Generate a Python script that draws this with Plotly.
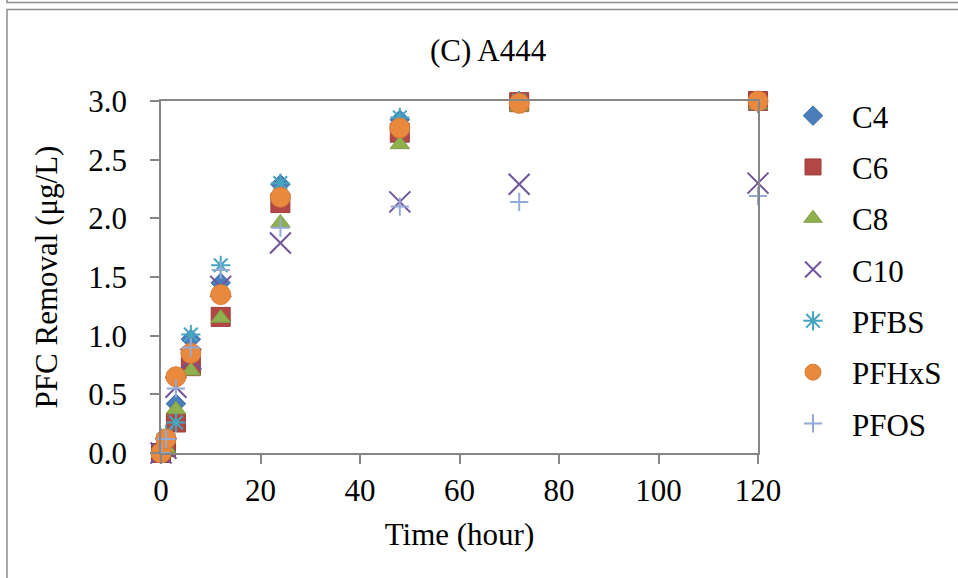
import plotly.graph_objects as go

# ---- data ----
time_h = [0, 1, 3, 6, 12, 24, 48, 72, 120]
c4 = [0.00, 0.05, 0.42, 0.97, 1.45, 2.29, 2.84, 3.00, 3.00]
c6 = [0.00, 0.05, 0.26, 0.74, 1.16, 2.13, 2.73, 2.99, 3.00]
c8 = [0.00, 0.04, 0.37, 0.70, 1.15, 1.96, 2.63, 2.95, 2.97]
c10 = [0.00, 0.04, 0.56, 0.80, 1.42, 1.79, 2.14, 2.29, 2.30]
pfbs = [0.00, 0.16, 0.26, 1.01, 1.60, 2.30, 2.86, 3.00, 2.98]
pfhxs = [0.00, 0.12, 0.65, 0.85, 1.35, 2.18, 2.77, 2.98, 3.00]
pfos = [0.00, 0.12, 0.55, 0.90, 1.56, 1.92, 2.10, 2.14, 2.19]

series_names = ["C4", "C6", "C8", "C10", "PFBS", "PFHxS", "PFOS"]
series_values = [c4, c6, c8, c10, pfbs, pfhxs, pfos]

y_ticks = [0.0, 0.5, 1.0, 1.5, 2.0, 2.5, 3.0]
x_ticks = [0, 20, 40, 60, 80, 100, 120]

# ---- styles ----
styles = {
    "C4": dict(symbol="diamond", size=15, color="#4A7EBB", line=dict(color="#3E6CA4", width=1)),
    "C6": dict(symbol="square", size=19, color="#B24745", line=dict(color="#9E3D3B", width=1)),
    "C8": dict(symbol="triangle-up", size=17, color="#8FB04F", line=dict(color="#7E9E45", width=1)),
    "C10": dict(symbol="x-thin-open", size=21, color="#70559A", line=dict(color="#70559A", width=2)),
    "PFBS": dict(symbol="asterisk-open", size=16, color="#46A5BF", line=dict(color="#46A5BF", width=2)),
    "PFHxS": dict(symbol="circle", size=20, color="#E8893D", line=dict(color="#D97E36", width=1)),
    "PFOS": dict(symbol="cross-thin-open", size=13, color="#93AAD6", line=dict(color="#93AAD6", width=2)),
}

FONT = "Liberation Serif, Times New Roman, serif"
FS = 31
W, H = 958, 578
L, R, T, B = 161, 200, 101, 125
PW, PH = W - L - R, H - T - B

def px_x(p):
    return (p - L) / PW

def px_y(p):
    return (H - B - p) / PH

fig = go.Figure()
for i, (name, vals) in enumerate(zip(series_names, series_values)):
    fig.add_trace(go.Scatter(
        x=time_h, y=vals, name=name, mode="markers",
        marker=styles[name], cliponaxis=False, legendgroup=f"g{i}",
    ))

axis_color = "#868686"
tfont = dict(family=FONT, size=FS, color="black")
fig.update_layout(
    width=W, height=H,
    margin=dict(l=L, r=R, t=T, b=B, autoexpand=False),
    paper_bgcolor="white", plot_bgcolor="white",
    font=tfont,
    title=dict(text="(C) A444", x=488 / W, xref="container", xanchor="center",
               y=1 - 50 / H, yref="container", yanchor="middle", font=tfont),
    showlegend=True,
    legend=dict(x=px_x(774), y=px_y(89), xanchor="left", yanchor="top",
                traceorder="grouped", tracegroupgap=8, itemwidth=68,
                font=tfont, maxheight=520,
                bgcolor="rgba(0,0,0,0)", itemsizing="trace"),
    xaxis=dict(range=[0, 120], tickvals=x_ticks, ticktext=[str(v) for v in x_ticks],
               showgrid=False, zeroline=False, showline=True, linecolor=axis_color,
               linewidth=1.5, mirror=True, ticks="outside", ticklen=9, tickcolor=axis_color,
               tickwidth=1.5, tickfont=tfont,
               title=dict(text="Time (hour)", font=tfont, standoff=16)),
    yaxis=dict(range=[0, 3], tickvals=y_ticks, ticktext=[f"{v:.1f}" for v in y_ticks],
               showgrid=False, zeroline=False, showline=True, linecolor=axis_color,
               linewidth=1.5, mirror=True, ticks="outside", ticklen=9, tickcolor=axis_color,
               tickwidth=1.5, tickfont=tfont, ticklabelstandoff=17,
               title=dict(text="PFC Removal (μg/L)", font=tfont, standoff=21)),
)

# chart-area frames (outer borders seen in the reference)
frame_color = "#8C8C8C"
fig.add_shape(type="rect", xref="paper", yref="paper",
              x0=px_x(7), x1=px_x(975), y0=px_y(600), y1=px_y(9.5),
              line=dict(color=frame_color, width=1.5), fillcolor="rgba(0,0,0,0)", layer="below")
fig.add_shape(type="rect", xref="paper", yref="paper",
              x0=px_x(7), x1=px_x(975), y0=px_y(2.5), y1=px_y(-20),
              line=dict(color=frame_color, width=1.5), fillcolor="rgba(0,0,0,0)", layer="below")

fig.write_html("out.html", config={"displayModeBar": False},
               post_script="document.body.style.margin='0';document.body.style.overflow='hidden';")
